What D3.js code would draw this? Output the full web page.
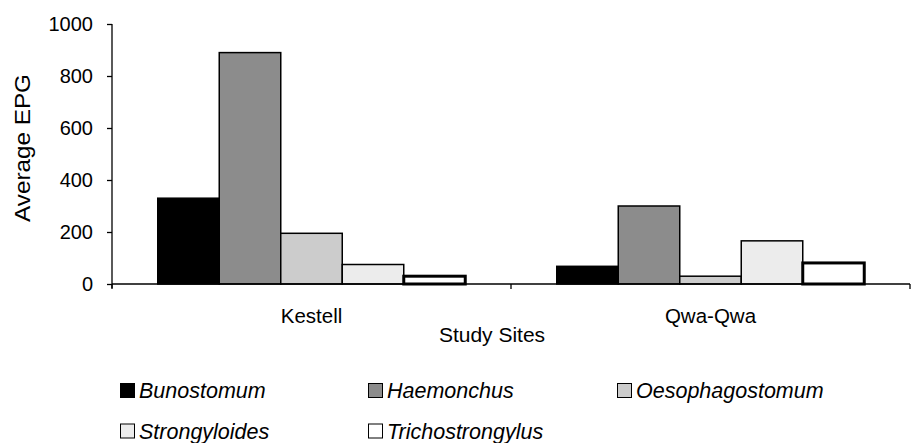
<!DOCTYPE html>
<html><head><meta charset="utf-8">
<script src="https://cdn.jsdelivr.net/npm/d3@7"></script>
<style>body{margin:0;background:#fff}svg{display:block;font-family:"Liberation Sans",Arial,sans-serif}</style>
</head><body>
<svg id="c" width="911" height="443"></svg>
<script>
const sites = ["Kestell", "Qwa-Qwa"];
const species = ["Bunostomum", "Haemonchus", "Oesophagostomum", "Strongyloides", "Trichostrongylus"];
const bunostomum = [330, 68];
const haemonchus = [890, 300];
const oesophagostomum = [195, 30];
const strongyloides = [75, 166];
const trichostrongylus = [30, 81];
const yTicks = [0, 200, 400, 600, 800, 1000];
const fills = ["#000000", "#8c8c8c", "#cccccc", "#ececec", "#ffffff"];

const seriesValues = [bunostomum, haemonchus, oesophagostomum, strongyloides, trichostrongylus];
const svg = d3.select("#c");
const L = 112, R = 910, T = 24, B = 284;
const x = d3.scaleBand().domain(sites).range([L, R]).paddingInner(0).paddingOuter(0);
const y = d3.scaleLinear().domain([0, 1000]).range([B, T]);
const groupW = 307.5;
const xs = d3.scaleBand().domain(species).range([0, groupW]).padding(0);

// bars
sites.forEach((s, i) => {
  const g = svg.append("g").attr("transform", `translate(${x(s) + (x.bandwidth() - groupW) / 2},0)`);
  species.forEach((sp, j) => {
    const v = seriesValues[j][i];
    const thick = j === 4;
    g.append("rect")
      .attr("x", xs(sp)).attr("width", xs.bandwidth())
      .attr("y", y(v)).attr("height", y(0) - y(v))
      .attr("fill", fills[j]).attr("stroke", "#000")
      .attr("stroke-width", thick ? 3 : 1.5);
  });
});

// y axis
const ya = svg.append("g").attr("transform", `translate(${L},0)`)
  .call(d3.axisLeft(y).tickValues(yTicks).tickSize(5).tickPadding(14).tickFormat(d3.format("d")));
ya.attr("font-size", 20).attr("font-family", "Liberation Sans, Arial, sans-serif");
ya.select(".domain").attr("stroke", "#000").attr("stroke-width", 1.3).attr("d", `M0,${T}V${B + 4}`);
ya.selectAll(".tick line").attr("stroke", "#000").attr("stroke-width", 1.3);
ya.selectAll(".tick text").attr("fill", "#000");

// x axis
const xa = svg.append("g").attr("transform", `translate(0,${B})`);
xa.append("line").attr("x1", L).attr("x2", R).attr("y1", 0).attr("y2", 0).attr("stroke", "#000").attr("stroke-width", 1.5);
[L, x("Qwa-Qwa"), R].forEach(p => xa.append("line").attr("x1", p).attr("x2", p).attr("y1", 0).attr("y2", 5).attr("stroke", "#000").attr("stroke-width", 1.3));
sites.forEach(s => xa.append("text").attr("x", x(s) + x.bandwidth() / 2).attr("y", 39).attr("text-anchor", "middle").attr("font-size", 20.5).text(s));

svg.append("text").attr("x", 492).attr("y", 342).attr("text-anchor", "middle").attr("font-size", 21).text("Study Sites");
svg.append("text").attr("transform", "translate(30,148) rotate(-90)").attr("text-anchor", "middle")
  .attr("font-size", 22).attr("textLength", 148).attr("lengthAdjust", "spacingAndGlyphs").text("Average EPG");

// legend
const legPos = [[120, 390.5], [368, 390.5], [617, 390.5], [120, 431], [368, 431]];
species.forEach((sp, j) => {
  const [lx, ly] = legPos[j];
  svg.append("rect").attr("x", lx + 0.5).attr("y", ly - 7).attr("width", 14).attr("height", 14)
    .attr("fill", fills[j]).attr("stroke", "#000").attr("stroke-width", 1);
  svg.append("text").attr("x", lx + 19).attr("y", ly + 7.5).attr("font-size", 21.5).attr("font-style", "italic").text(sp);
});
</script>
</body></html>
